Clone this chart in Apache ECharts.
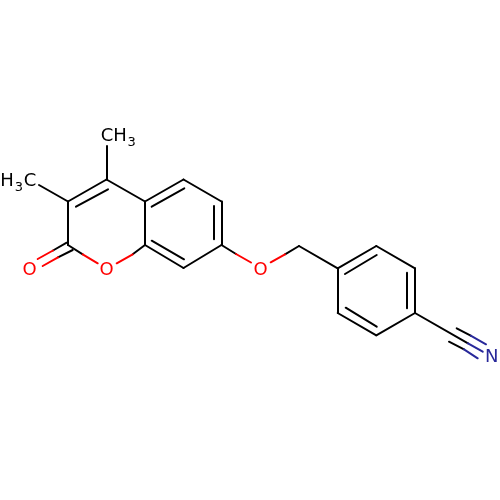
<!DOCTYPE html>
<html><head><meta charset="utf-8">
<style>html,body{margin:0;background:#fff}#c{width:500px;height:500px}</style>
<script src="https://cdn.jsdelivr.net/npm/echarts@6/dist/echarts.min.js"></script>
</head><body><div id="c"></div>
<script>
const blackBonds = [
 [106.5,179.5,106.5,146],[68,201.5,39,185],[106.5,179.5,68,201.5],[108,189.3,76,206.7],
 [68,201.5,68,245],[66.7,242.7,53,250.5],[72.7,250,58,257.3],[68,245,82.7,254.3],[132.7,254.3,145,245],
 [145,245,145,201.5],[145,201.5,106.5,179.5],[145,201.5,183.5,179.5],[151.7,206.7,184.3,188.3],
 [183.5,179.5,221.5,201.5],[221.5,201.5,221.5,245],[213.3,206,213.3,239.3],[221.5,245,183.5,268],
 [183.5,268,145,245],[184,259.3,151.7,240.7],[221.5,245,236,254],[285,254.3,299,246],
 [299,246,337.7,268.3],[337.7,268.3,376.3,246],[345,274,376.7,255],[376.3,246,415,268.3],
 [415,268.3,415,313],[406.7,272.7,406.7,308.3],[415,313,376.3,335.3],[376.3,335.3,337.7,313],
 [376.7,326.7,345.7,307.7],[337.7,313,337.7,268.3],[415,313,468,343.3],[456.7,328.3,470.7,335.7],[449,341.7,464,349.3]
];
const redBonds = [
 [53,250.5,37.7,259],[58,257.3,42.7,266],[82.7,254.3,97.7,263.3],[116.7,263.3,132.7,254.3],
 [236,254,251,262.5],[270.7,262.3,285,254.3]
];
const blueBonds = [[470.7,335.7,486,344.3],[464,349.3,477.7,358.3],[468,343.3,482.7,351.7]];
const labels = [
 ['CH',113.7,136.5,18,'#000'],['3',131.7,143,13,'#000'],
 ['H',7,181,18,'#000'],['3',19,187.7,13,'#000'],['C',30,181,18,'#000'],
 ['O',29.7,270,18,'#ff0000'],['O',106.7,270,18,'#ff0000'],['O',260.7,270,18,'#ff0000'],
 ['N',491.7,357.7,18,'#28289a']
];
const bondSeries = (data,color)=>({type:'lines',coordinateSystem:'cartesian2d',polyline:false,silent:true,
  lineStyle:{color,width:2,opacity:1,cap:'round',curveness:0},
  data:data.map(b=>({coords:[[b[0],b[1]],[b[2],b[3]]]}))});
const chart = echarts.init(document.getElementById('c'),null,{renderer:'canvas'});
chart.setOption({
 animation:false,backgroundColor:'#fff',
 grid:{left:0,right:0,top:0,bottom:0},
 xAxis:{type:'value',min:0,max:500,show:false},
 yAxis:{type:'value',min:0,max:500,inverse:true,show:false},
 series:[bondSeries(blackBonds,'#000'),bondSeries(redBonds,'#ff0000'),bondSeries(blueBonds,'#28289a'),
 {type:'scatter',symbolSize:1,silent:true,itemStyle:{opacity:1,color:'transparent'},
  data:labels.map(l=>({value:[l[1],l[2]],label:{show:true,position:'inside',align:'center',verticalAlign:'middle',opacity:1,formatter:l[0],fontFamily:'DejaVu Sans',fontSize:l[3],color:l[4]}}))}]
});
</script></body></html>
